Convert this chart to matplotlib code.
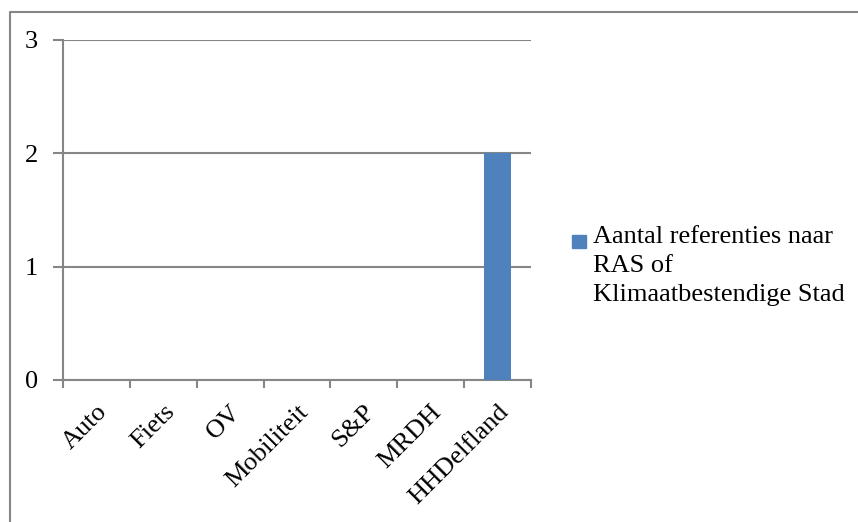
import matplotlib
matplotlib.use("Agg")
import matplotlib.pyplot as plt
from matplotlib.lines import Line2D
from matplotlib.patches import Rectangle

# categories and counts
categories = ["Auto", "Fiets", "OV", "Mobiliteit", "S&P", "MRDH", "HHDelfland"]
counts = [0, 0, 0, 0, 0, 0, 2]
series_label = "Aantal referenties naar\nRAS of\nKlimaatbestendige Stad"
y_ticks = [0, 1, 2, 3]

bar_color = "#4F81BD"
grey = "#868686"

plt.rcParams["font.family"] = ["Liberation Serif", "DejaVu Serif"]

W, H = 858, 522
fig = plt.figure(figsize=(W / 100, H / 100), dpi=100)
ax = fig.add_axes([63 / W, 1 - 380 / H, (531 - 63) / W, (380 - 40) / H])

x = list(range(len(categories)))
ax.bar(x, counts, width=0.4, color=bar_color, zorder=3)

ax.set_xlim(-0.5, len(categories) - 0.5)
ax.set_ylim(0, 3)
ax.set_yticks(y_ticks)
ax.yaxis.grid(True, color=grey, linewidth=1.5)
ax.set_axisbelow(True)

for side in ["top", "right"]:
    ax.spines[side].set_visible(False)
for side in ["left", "bottom"]:
    ax.spines[side].set_color(grey)
    ax.spines[side].set_linewidth(1.5)

ax.tick_params(axis="y", length=7, width=1.5, color=grey, labelsize=19, pad=11)

# category labels in the middle, tick marks on the boundaries
ax.set_xticks(x)
ax.set_xticklabels(categories, rotation=45, ha="right", va="top",
                   rotation_mode="anchor", fontsize=19)
ax.tick_params(axis="x", which="major", length=0, pad=15)
ax.set_xticks([i - 0.5 for i in range(len(categories) + 1)], minor=True)
ax.tick_params(axis="x", which="minor", length=6, width=1.5, color=grey)

# legend: square key beside the wrapped series name
fig.add_artist(Rectangle((572 / W, 1 - 248 / H), 14 / W, 13 / H,
                         transform=fig.transFigure, color=bar_color))
fig.text(593 / W, 1 - 226 / H, series_label, fontsize=19, va="top",
         ha="left", linespacing=1.4)

# chart frame (top and left edges)
fig.add_artist(Line2D([9.5 / W, 9.5 / W, 1], [0, 1 - 11.5 / H, 1 - 11.5 / H],
                      transform=fig.transFigure, color=grey, linewidth=1.5))

fig.savefig("out.png", dpi=100)
